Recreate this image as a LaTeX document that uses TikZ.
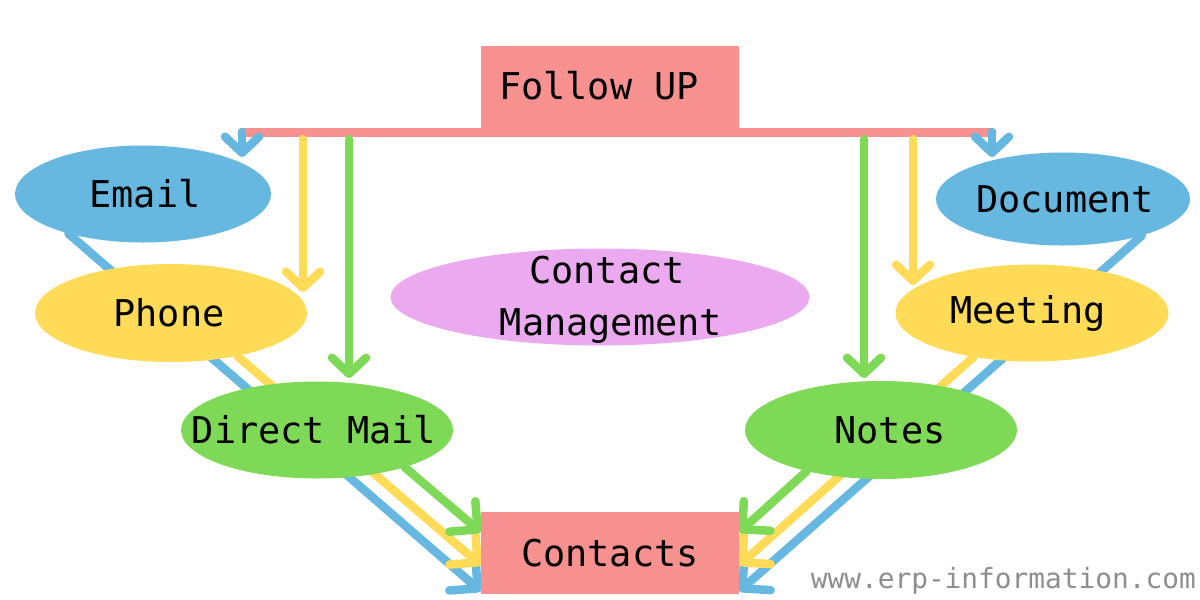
\documentclass[tikz,border=0pt]{standalone}
\usepackage{fontspec}
\setmonofont{DejaVu Sans Mono}
\usetikzlibrary{arrows.meta,shapes.geometric}
\pgfdeclarelayer{back}
\pgfsetlayers{back,main}
\definecolor{cSalmon}{HTML}{F79190}
\definecolor{cBlue}{HTML}{66B8E0}
\definecolor{cYellow}{HTML}{FFDB58}
\definecolor{cGreen}{HTML}{7ED957}
\definecolor{cPink}{HTML}{EBAAEF}
\definecolor{cMark}{HTML}{8E8E8E}
\tikzset{
  lbl/.style={font=\ttfamily\fontsize{36.9}{52}\selectfont, text=black},
  bubble/.style={ellipse, inner sep=0pt, lbl},
  boxnode/.style={rectangle, fill=cSalmon, minimum width=258pt, minimum height=82pt, inner sep=0pt, lbl},
  vlink/.style={line width=8.5pt, line cap=round, -{Straight Barb[length=16pt,width=34pt,round]}},
  dlink/.style={line width=8.5pt, line cap=round, -{Straight Barb[length=20pt,width=40pt,round]}},
  barline/.style={line width=9pt, line cap=round, cSalmon},
}
\newcommand{\zw}[1]{\makebox[0pt]{#1}}
\newcommand{\zline}[1]{\hbox to 0pt{\hss#1\hss}}
\begin{document}
\begin{tikzpicture}[x=1pt,y=-1pt]
\useasboundingbox (0,0) rectangle (1200,600);

% nodes
\node[boxnode] (follow) at (610,87) {\zw{\raisebox{4pt}{Follow UP}\kern22pt}};
\node[boxnode] (contacts) at (610,553) {\zw{Contacts}};
\node[bubble, fill=cBlue, minimum width=256pt, minimum height=97pt] (email) at (143,194) {\zw{\kern4pt Email}};
\node[bubble, fill=cYellow, minimum width=272pt, minimum height=98pt] (phone) at (171,313) {\zw{\kern-4pt Phone}};
\node[bubble, fill=cGreen, minimum width=272pt, minimum height=97pt] (dmail) at (317,430) {\zw{\kern-6pt Direct Mail}};
\node[bubble, fill=cPink, minimum width=419pt, minimum height=97pt] (cm) at (600,297) {\raisebox{-38.5pt}[0pt][0pt]{\vbox{\baselineskip=52pt\zline{\kern14pt Contact}\zline{\kern22pt Management}}}};
\node[bubble, fill=cBlue, minimum width=254pt, minimum height=93pt] (document) at (1063,199) {\zw{\kern4pt Document}};
\node[bubble, fill=cYellow, minimum width=273pt, minimum height=97pt] (meeting) at (1032,313) {\zw{Meeting\kern8pt}};
\node[bubble, fill=cGreen, minimum width=272pt, minimum height=98pt] (notes) at (881,430) {\zw{\kern18pt Notes}};

% diagonal connectors, behind the bubbles
\begin{pgfonlayer}{back}
\fill[white] (0,0) rectangle (1200,600);
\draw[dlink, cBlue] (email.208) -- ([yshift=3pt]contacts.south west);
\draw[dlink, cYellow] (phone.327) -- ([yshift=29pt]contacts.south west);
\draw[dlink, cGreen] (dmail.337) -- ([yshift=62pt]contacts.south west);
\draw[dlink, cBlue] (document.335) -- ([yshift=3pt]contacts.south east);
\draw[dlink, cYellow] (meeting.217) -- ([yshift=29pt]contacts.south east);
\draw[dlink, cGreen] (notes.209) -- ([yshift=62pt]contacts.south east);
\end{pgfonlayer}

% follow-up bar
\coordinate (barL) at (242,132);
\coordinate (barR) at (992,132);
\draw[barline] (barL) -- (barR);

% vertical connectors
\coordinate (yL) at (303,139);
\coordinate (gL) at (349,139);
\coordinate (gR) at (864,139);
\coordinate (yR) at (913,139);
\coordinate (tEmail) at (242,157);
\coordinate (tPhone) at (303,292);
\coordinate (tDmail) at (349,378);
\coordinate (tNotes) at (864,378);
\coordinate (tMeeting) at (913,285);
\coordinate (tDoc) at (992,157);
\draw[vlink, cBlue] (barL) -- (tEmail);
\draw[vlink, cYellow] (yL) -- (tPhone);
\draw[vlink, cGreen] (gL) -- (tDmail);
\draw[vlink, cGreen] (gR) -- (tNotes);
\draw[vlink, cYellow] (yR) -- (tMeeting);
\draw[vlink, cBlue] (barR) -- (tDoc);

% watermark
\node[anchor=base east, inner sep=0pt, font=\ttfamily\fontsize{27.8}{30}\selectfont, text=cMark] (mark) at (1196,588) {www.erp-information.com};
\end{tikzpicture}
\end{document}
